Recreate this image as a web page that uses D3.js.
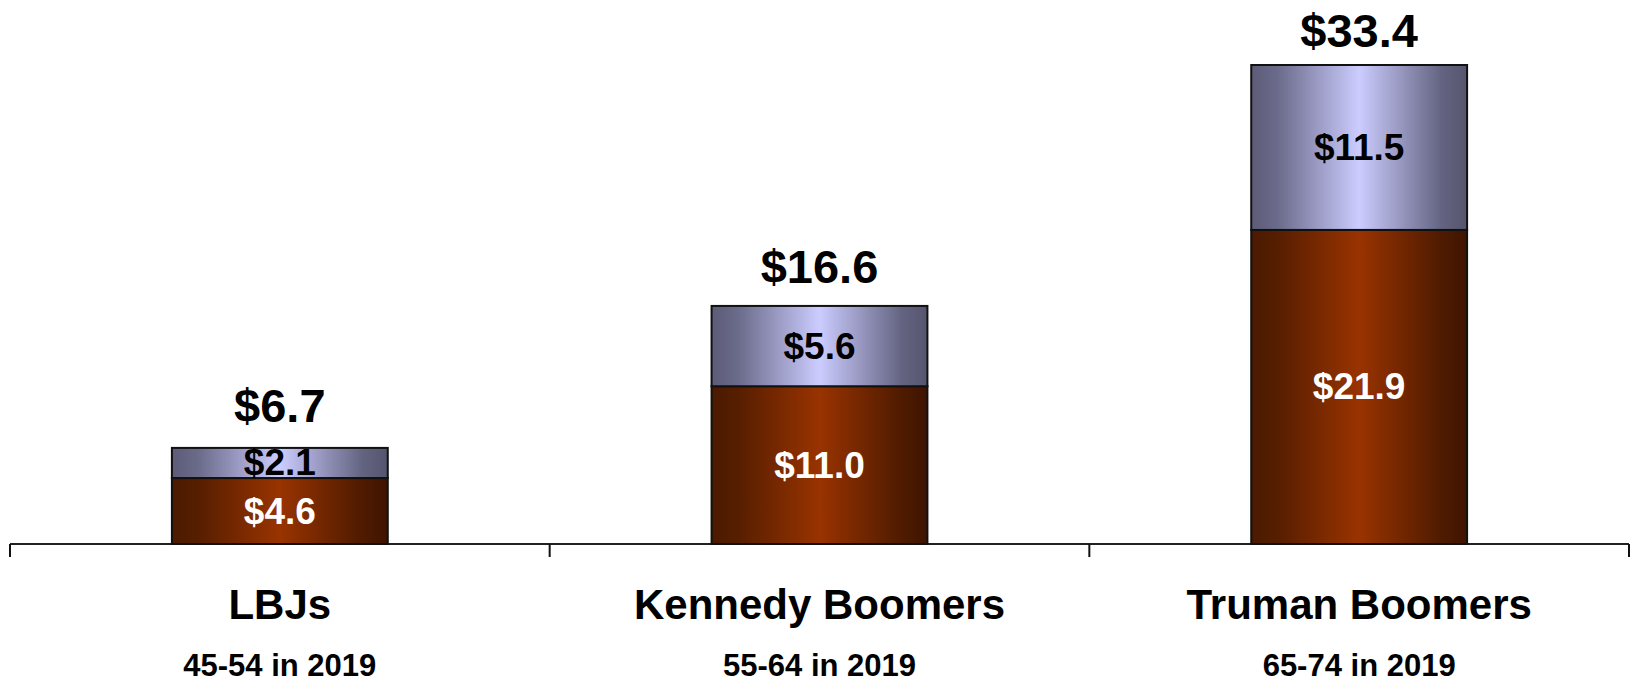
<!DOCTYPE html>
<html>
<head>
<meta charset="utf-8">
<script src="https://cdn.jsdelivr.net/npm/d3@7"></script>
<style>
  html, body { margin: 0; padding: 0; background: #ffffff; }
  svg { display: block; font-family: "Liberation Sans", Arial, sans-serif; font-weight: bold; }
</style>
</head>
<body>
<svg id="chart" width="1633" height="685"></svg>
<script>
// Generations and their age ranges
const categories = ["LBJs", "Kennedy Boomers", "Truman Boomers"];
const ageRanges = ["45-54 in 2019", "55-64 in 2019", "65-74 in 2019"];

// Stacked values (bottom segment, top segment) and totals shown above each bar
const bottomValues = [4.6, 11.0, 21.9];
const topValues = [2.1, 5.6, 11.5];
const totals = [6.7, 16.6, 33.4];

const svg = d3.select("#chart");
const baseY = 544;

const x = d3.scaleBand()
  .domain(categories)
  .range([10, 1629])
  .paddingInner(0.6)
  .paddingOuter(0.3);

const y = d3.scaleLinear()
  .domain([0, 33.4])
  .range([baseY, 65]);

// Totals sit on a slightly flatter scale than the bars themselves
const yTotal = d3.scaleLinear()
  .domain([0, 33.4])
  .range([516, 46.5]);

// Horizontal gradients giving the bars a cylindrical look
const defs = svg.append("defs");
function hGradient(id, stops) {
  const g = defs.append("linearGradient")
    .attr("id", id)
    .attr("x1", "0%").attr("y1", "0%")
    .attr("x2", "100%").attr("y2", "0%");
  stops.forEach(([o, c]) => g.append("stop").attr("offset", o).attr("stop-color", c));
}
hGradient("gradBrown", [["0%", "#4a1a00"], ["12%", "#561e00"], ["50%", "#993300"], ["88%", "#4f1b00"], ["100%", "#3f1400"]]);
hGradient("gradLavender", [["0%", "#5c5c78"], ["12%", "#6a6a8a"], ["50%", "#ccccff"], ["88%", "#646482"], ["100%", "#55556e"]]);

const rows = categories.map((c, i) => ({
  cat: c, age: ageRanges[i], bottom: bottomValues[i], top: topValues[i], total: totals[i]
}));

// Axis line with category separator ticks
const [r0] = x.range();
const boundaries = d3.range(categories.length + 1).map(i => r0 + i * x.step());
svg.append("line")
  .attr("x1", boundaries[0]).attr("x2", boundaries[boundaries.length - 1])
  .attr("y1", baseY).attr("y2", baseY)
  .attr("stroke", "#222").attr("stroke-width", 2);
svg.selectAll(".tick").data(boundaries).join("line")
  .attr("class", "tick")
  .attr("x1", d => d).attr("x2", d => d)
  .attr("y1", baseY).attr("y2", baseY + 13)
  .attr("stroke", "#111").attr("stroke-width", 2);

// Bottom segments
svg.selectAll(".seg-bottom").data(rows).join("rect")
  .attr("class", "seg-bottom")
  .attr("x", d => x(d.cat))
  .attr("width", x.bandwidth())
  .attr("y", d => y(d.bottom))
  .attr("height", d => y(0) - y(d.bottom))
  .attr("fill", "url(#gradBrown)")
  .attr("stroke", "#111").attr("stroke-width", 2);

// Top segments
svg.selectAll(".seg-top").data(rows).join("rect")
  .attr("class", "seg-top")
  .attr("x", d => x(d.cat))
  .attr("width", x.bandwidth())
  .attr("y", d => y(d.bottom + d.top))
  .attr("height", d => y(d.bottom) - y(d.bottom + d.top))
  .attr("fill", "url(#gradLavender)")
  .attr("stroke", "#111").attr("stroke-width", 2);

const fmt = v => "$" + d3.format(".1f")(v);

// Segment value labels
svg.selectAll(".lbl-bottom").data(rows).join("text")
  .attr("class", "lbl-bottom")
  .attr("x", d => x(d.cat) + x.bandwidth() / 2)
  .attr("y", d => (y(0) + y(d.bottom)) / 2)
  .attr("text-anchor", "middle")
  .attr("dominant-baseline", "central")
  .attr("font-size", 37)
  .attr("fill", "#ffffff")
  .text(d => fmt(d.bottom));

svg.selectAll(".lbl-top").data(rows).join("text")
  .attr("class", "lbl-top")
  .attr("x", d => x(d.cat) + x.bandwidth() / 2)
  .attr("y", d => (y(d.bottom) + y(d.bottom + d.top)) / 2)
  .attr("text-anchor", "middle")
  .attr("dominant-baseline", "central")
  .attr("font-size", 37)
  .attr("fill", "#000000")
  .text(d => fmt(d.top));

// Totals above each bar
svg.selectAll(".lbl-total").data(rows).join("text")
  .attr("class", "lbl-total")
  .attr("x", d => x(d.cat) + x.bandwidth() / 2)
  .attr("y", d => yTotal(d.total))
  .attr("text-anchor", "middle")
  .attr("font-size", 47)
  .attr("fill", "#000000")
  .text(d => fmt(d.total));

// Category names and age ranges
svg.selectAll(".cat").data(rows).join("text")
  .attr("class", "cat")
  .attr("x", d => x(d.cat) + x.bandwidth() / 2)
  .attr("y", 619)
  .attr("text-anchor", "middle")
  .attr("font-size", 42)
  .attr("fill", "#000000")
  .text(d => d.cat);

svg.selectAll(".age").data(rows).join("text")
  .attr("class", "age")
  .attr("x", d => x(d.cat) + x.bandwidth() / 2)
  .attr("y", 676)
  .attr("text-anchor", "middle")
  .attr("font-size", 31)
  .attr("fill", "#000000")
  .text(d => d.age);
</script>
</body>
</html>
